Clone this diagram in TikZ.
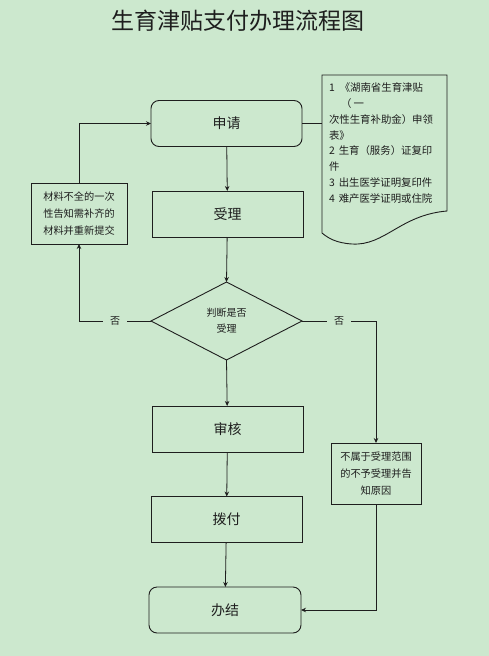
\documentclass[tikz,border=0pt]{standalone}
\usepackage{fontspec}
\setmainfont{Noto Sans CJK SC}
\usetikzlibrary{shapes.geometric,arrows.meta}
\definecolor{bg}{RGB}{204,232,206}
\definecolor{ink}{RGB}{30,30,30}
\begin{document}
\begin{tikzpicture}[x=1pt,y=-1pt,
  every node/.style={inner sep=0pt,outer sep=0pt,text=ink},
  mainbox/.style={draw=ink,line width=0.9pt,minimum width=151pt,minimum height=46pt,font=\fontsize{14}{16}\selectfont},
  roundbox/.style={mainbox,rounded corners=8pt},
  sidebox/.style={draw=ink,line width=0.9pt,align=center,font=\fontsize{10.2}{16.8}\selectfont},
  conn/.style={draw=ink,line width=0.8pt},
  arr/.style={conn,-{Stealth[length=5pt,width=4.5pt]}},
  nolabel/.style={fill=bg,inner xsep=7pt,inner ysep=3pt,font=\fontsize{10}{12}\selectfont}
]
\fill[bg] (0,0) rectangle (489,656);
\useasboundingbox (0,0) rectangle (489,656);

\node (title) at (238,21) {\fontsize{23}{26}\selectfont 生育津贴支付办理流程图};

\node[roundbox] (sq) at (226.5,123.5) {申请};
\node[mainbox] (sl) at (227.5,214) {受理};
\node[draw=ink,line width=0.9pt,diamond,minimum width=151pt,minimum height=78pt,align=center,font=\fontsize{10}{16}\selectfont] (dia) at (226.5,321) {判断是否\\受理};
\node[mainbox] (sh) at (227.5,429) {审核};
\node[mainbox] (bf) at (226.5,519.5) {拨付};
\node[roundbox,minimum width=152pt] (bj) at (225,610) {办结};

\node[sidebox,minimum width=96pt,minimum height=61pt] (lb) at (79,213.5) {材料不全的一次\\性告知需补齐的\\材料并重新提交};
\node[sidebox,minimum width=90pt,minimum height=61pt] (rb) at (376,473.5) {不属于受理范围\\的不予受理并告\\知原因};

% document shape
\node[minimum width=125pt,minimum height=136pt] (doc) at (384.5,143) {};
\draw[ink,line width=0.9pt] (doc.north west) -- (doc.north east) -- (doc.south east)
  .. controls (400,215) and (385,246) .. (352,244)
  .. controls (336,243) and (328,238) .. (322,233) -- cycle;
\node[anchor=north west,align=left,font=\fontsize{10.4}{15.9}\selectfont] (doctext) at (329,82.5)
 {1\hspace{5pt}《湖南省生育津贴\\\hspace*{12pt}（ 一\\次性生育补助金）申领\\表》\\2\hspace{4pt}生育（服务）证复印\\件\\3\hspace{4pt}出生医学证明复印件\\4\hspace{4pt}难产医学证明或住院};

% connectors
\draw[arr] (sq) -- (sl);
\draw[conn] (sq.east) -- (sq.east -| doc.west);
\draw[arr] (sl) -- (dia.north);
\draw[arr] (dia.south) -- (sh);
\draw[arr] (sh) -- (bf);
\draw[arr] (bf) -- (bj);
\draw[arr] (dia.west) -- node[nolabel] {否} (dia.west -| lb.south) -- (lb.south);
\draw[arr] (lb.north) -- (lb.north |- sq.west) -- (sq.west);
\draw[arr] (dia.east) -- node[nolabel] {否} (dia.east -| rb.north) -- (rb.north);
\draw[arr] (rb.south) -- (rb.south |- bj.east) -- (bj.east);
\end{tikzpicture}
\end{document}
